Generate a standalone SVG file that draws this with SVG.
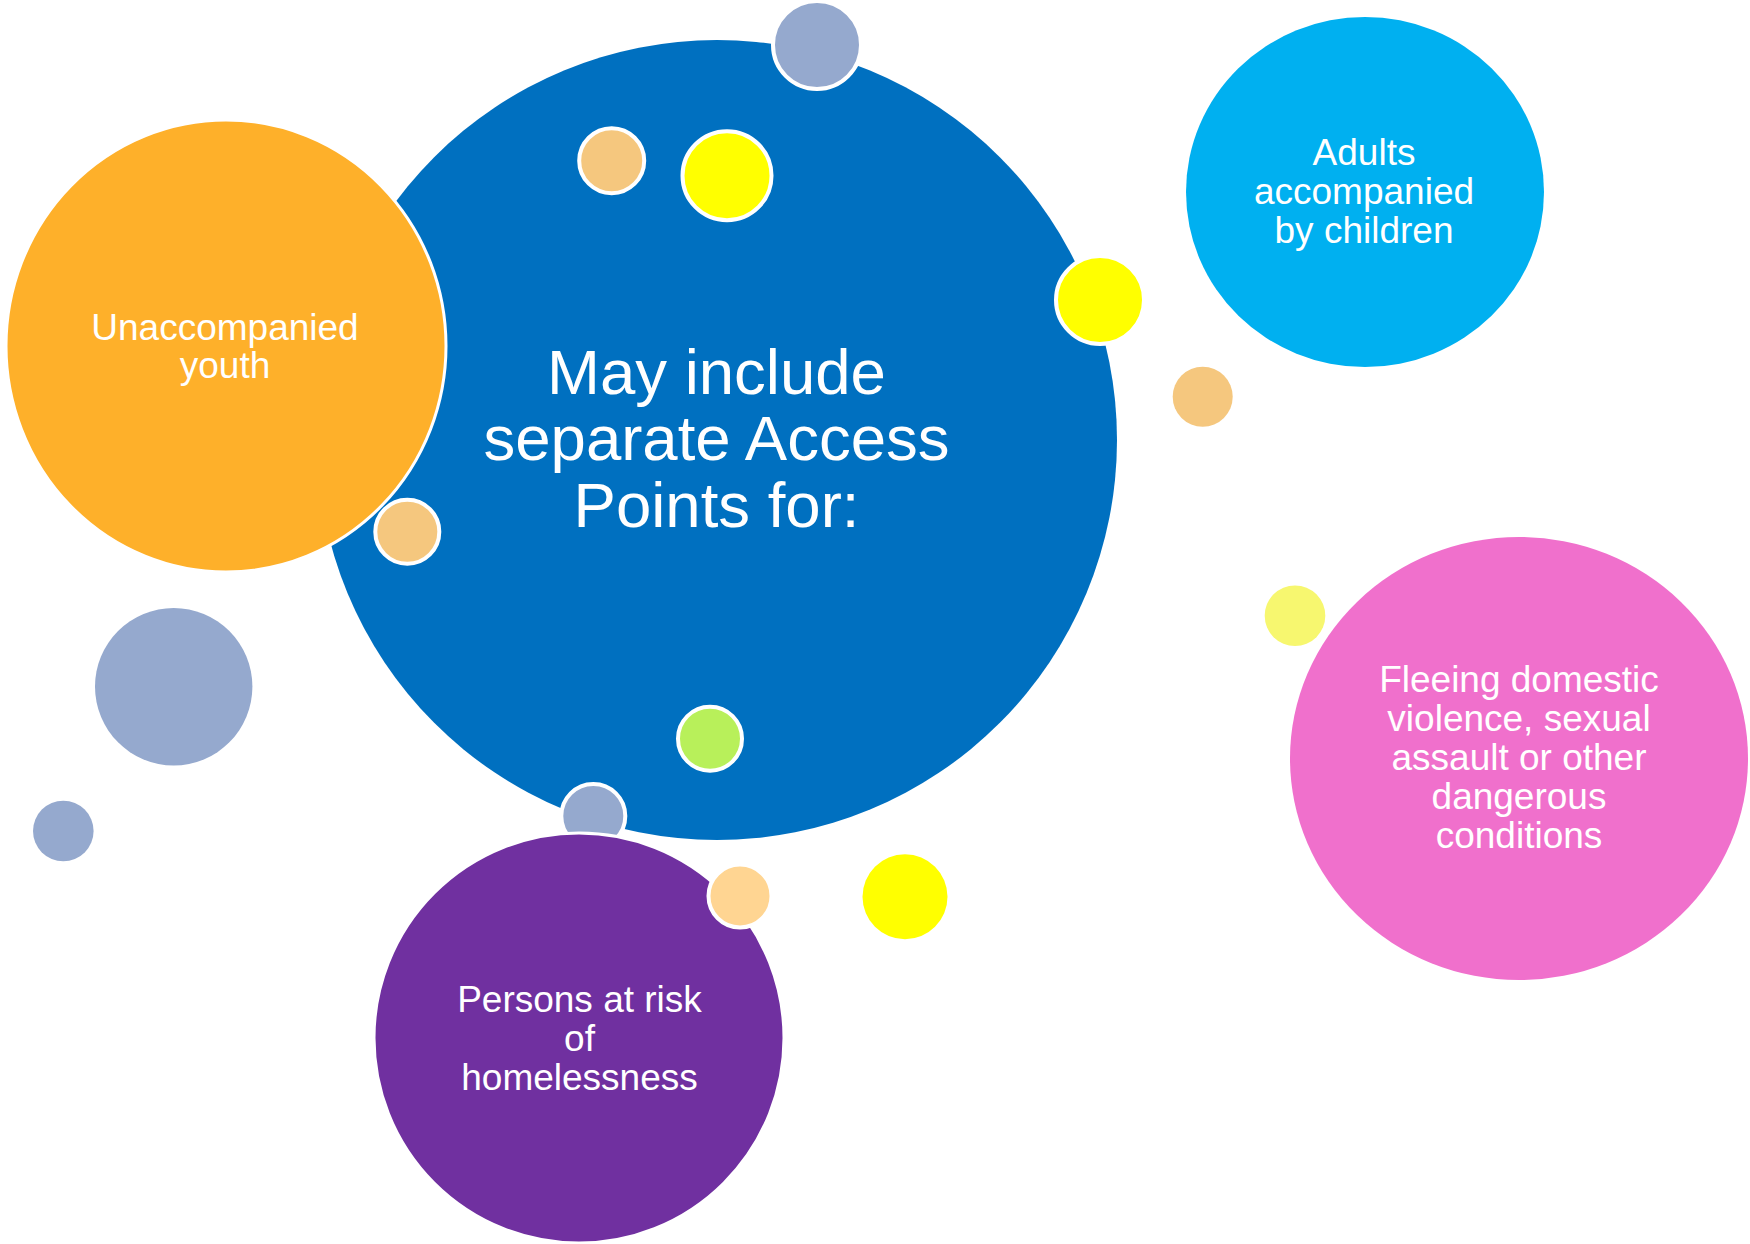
<svg xmlns="http://www.w3.org/2000/svg" width="1750" height="1244" viewBox="0 0 1750 1244">
<style>
.lbl{font-family:"Liberation Sans",Arial,sans-serif;fill:#fff;text-anchor:middle}
.big{font-size:63.5px}
.sm{font-size:37px}
.ws{stroke:#fff;stroke-width:4}
.wt{stroke:#fff;stroke-width:3}
</style>
<rect width="1750" height="1244" fill="#fff"/>
<g id="main">
<circle cx="717" cy="440" r="400" fill="#0070C0"/>
<text class="lbl big"><tspan x="716.5" y="394">May include</tspan><tspan x="716.5" y="460">separate Access</tspan><tspan x="716.5" y="527">Points for:</tspan></text>
</g>
<g id="youth">
<ellipse cx="226" cy="346" rx="220" ry="226" fill="#FEB02A" class="wt"/>
<text class="lbl sm"><tspan x="225" y="340">Unaccompanied</tspan><tspan x="225" y="378">youth</tspan></text>
</g>
<g id="adults">
<ellipse cx="1365" cy="192" rx="179" ry="175" fill="#00B0F0"/>
<text class="lbl sm"><tspan x="1364" y="165">Adults</tspan><tspan x="1364" y="204">accompanied</tspan><tspan x="1364" y="243">by children</tspan></text>
</g>
<g id="fleeing">
<ellipse cx="1519" cy="758.5" rx="229" ry="221.5" fill="#F070CC"/>
<text class="lbl sm"><tspan x="1519" y="692">Fleeing domestic</tspan><tspan x="1519" y="731">violence, sexual</tspan><tspan x="1519" y="770">assault or other</tspan><tspan x="1519" y="809">dangerous</tspan><tspan x="1519" y="848">conditions</tspan></text>
</g>
<g id="dots">
<circle cx="817" cy="45" r="44" fill="#95A9CE" class="ws"/>
<circle cx="611.7" cy="160.7" r="32.5" fill="#F5C77E" class="ws"/>
<circle cx="727" cy="175.7" r="44.5" fill="#FFFF00" class="ws"/>
<circle cx="1100" cy="300" r="44" fill="#FFFF00" class="ws"/>
<circle cx="1202.7" cy="396.7" r="30" fill="#F5C77E"/>
<circle cx="1295" cy="615.7" r="30.3" fill="#F7F76F"/>
<circle cx="407.3" cy="531.7" r="32" fill="#F5C77E" class="ws"/>
<circle cx="173.7" cy="686.7" r="78.7" fill="#95A9CE"/>
<circle cx="63.3" cy="831" r="30.3" fill="#95A9CE"/>
<circle cx="710" cy="738.7" r="32" fill="#B8F05A" class="ws"/>
<circle cx="593.3" cy="816" r="32" fill="#95A9CE" class="ws"/>
<circle cx="905" cy="896.7" r="42.5" fill="#FFFF00"/>
</g>
<g id="homeless">
<circle cx="579" cy="1038" r="205" fill="#7030A0" class="wt"/>
<text class="lbl sm"><tspan x="579.5" y="1012">Persons at risk</tspan><tspan x="579.5" y="1051">of</tspan><tspan x="579.5" y="1090">homelessness</tspan></text>
</g>
<g id="dot-top">
<circle cx="740" cy="896" r="31.5" fill="#FFD592" class="ws"/>
</g>
<g id="connectors"/>
</svg>
